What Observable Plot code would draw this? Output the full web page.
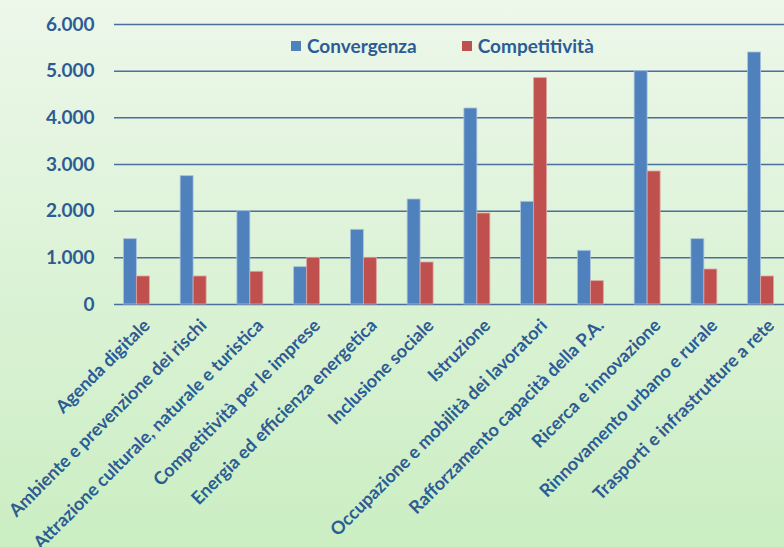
<!DOCTYPE html>
<html>
<head>
<meta charset="utf-8">
<script src="https://cdn.jsdelivr.net/npm/d3@7"></script>
<script src="https://cdn.jsdelivr.net/npm/@observablehq/plot@0.6"></script>
<style>
  html, body { margin: 0; padding: 0; width: 784px; height: 547px; overflow: hidden; }
  body { background: linear-gradient(to bottom, #EDF7EA 0%, #CBEEC3 100%); font-family: Lato, "Open Sans", sans-serif; }
  #wrap { position: relative; width: 784px; height: 547px; }
  #legend { position: absolute; left: 291px; top: 34px; display: flex; align-items: center; font-weight: bold; font-size: 19px; color: #2C5C94; }
  #legend .item { display: flex; align-items: center; margin-right: 45px; }
  #legend .sw { width: 10px; height: 10px; margin-right: 6px; }
  svg { overflow: visible; }
</style>
</head>
<body>
<div id="wrap">
  <div id="chart"></div>
  <div id="legend"></div>
</div>
<script>
const categories = [
  "Agenda digitale",
  "Ambiente e prevenzione dei rischi",
  "Attrazione culturale, naturale e turistica",
  "Competitività per le imprese",
  "Energia ed efficienza energetica",
  "Inclusione sociale",
  "Istruzione",
  "Occupazione e mobilità dei lavoratori",
  "Rafforzamento capacità della P.A.",
  "Ricerca e innovazione",
  "Rinnovamento urbano e rurale",
  "Trasporti e infrastrutture a rete"
];
const convergenza   = [1400, 2750, 2000, 800, 1600, 2250, 4200, 2200, 1150, 5000, 1400, 5400];
const competitivita = [600, 600, 700, 1000, 1000, 900, 1950, 4850, 500, 2850, 750, 600];
const seriesNames = ["Convergenza", "Competitività"];
const seriesColors = ["#4F81BD", "#C0504D"];
const yTicks = [0, 1000, 2000, 3000, 4000, 5000, 6000];

const textColor = "#2C5C94";
const gridColor = "#4A6E9F";
const locale = d3.formatLocale({decimal: ",", thousands: ".", grouping: [3], currency: ["€", ""]});
const fmt = locale.format(",");

const convData = categories.map((c, i) => ({cat: c, serie: seriesNames[0], value: convergenza[i]}));
const compData = categories.map((c, i) => ({cat: c, serie: seriesNames[1], value: competitivita[i]}));

const chart = Plot.plot({
  width: 784,
  height: 547,
  marginLeft: 108,
  marginRight: -5,
  marginTop: 24,
  marginBottom: 243,
  style: {background: "transparent", fontFamily: "Lato, 'Open Sans', sans-serif"},
  x: {type: "band", domain: categories, padding: 0, round: false},
  y: {domain: [0, 6000]},
  marks: [
    Plot.ruleY(yTicks, {stroke: gridColor, strokeWidth: 1.5, insetLeft: 6}),
    Plot.barY(convData, {x: "cat", y: "value", fill: seriesColors[0], stroke: "#A9C2DF", strokeWidth: 0.8, insetLeft: 15.4, insetRight: 28.4}),
    Plot.barY(compData, {x: "cat", y: "value", fill: seriesColors[1], stroke: "#DDA3A1", strokeWidth: 0.8, insetLeft: 28.4, insetRight: 15.4}),
    Plot.axisY({ticks: yTicks, tickFormat: fmt, tickSize: 0, tickPadding: 14, fontSize: 19, fontWeight: "bold", fill: textColor, label: null}),
    Plot.axisX({tickRotate: -45, tickSize: 0, tickPadding: 18, dx: 10, fontSize: 18, fontWeight: "bold", fill: textColor, label: null})
  ]
});
document.getElementById("chart").appendChild(chart);

const legend = document.getElementById("legend");
seriesNames.forEach((name, i) => {
  const item = document.createElement("div");
  item.className = "item";
  const sw = document.createElement("div");
  sw.className = "sw";
  sw.style.background = seriesColors[i];
  const label = document.createElement("span");
  label.textContent = name;
  item.appendChild(sw);
  item.appendChild(label);
  legend.appendChild(item);
});
</script>
</body>
</html>
